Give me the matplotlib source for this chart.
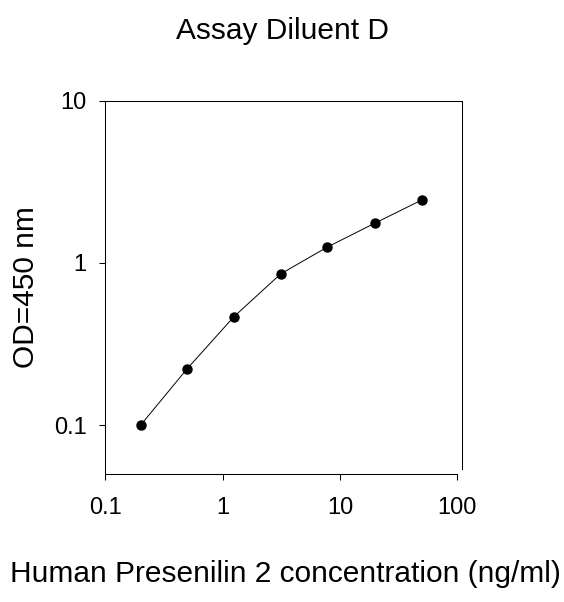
import matplotlib
matplotlib.use('Agg')
import matplotlib.pyplot as plt
from matplotlib.ticker import FixedLocator, NullLocator

plt.rcParams['font.family'] = ['Liberation Sans', 'DejaVu Sans']

# Standard curve data
conc = [0.2, 0.5, 1.25, 3.13, 7.8, 20, 50]
od = [0.100, 0.223, 0.466, 0.855, 1.25, 1.76, 2.44]

x_ticks = [0.1, 1, 10, 100]
x_tick_labels = ['0.1', '1', '10', '100']
y_ticks = [0.1, 1, 10]
y_tick_labels = ['0.1', '1', '10']

title = 'Assay Diluent D'
xlabel = 'Human Presenilin 2 concentration (ng/ml)'
ylabel = 'OD=450 nm'

fig = plt.figure(figsize=(5.64, 6.02), dpi=100)
ax = fig.add_axes([0.1867, 0.2126, 0.6325, 0.6204])

ax.plot(conc, od, color='black', linewidth=0.7, marker='o',
        markersize=6.5, markerfacecolor='black', markeredgecolor='black')

ax.set_xscale('log')
ax.set_yscale('log')
ax.set_xlim(0.1, 110)
ax.set_ylim(0.05, 10)

ax.xaxis.set_major_locator(FixedLocator(x_ticks))
ax.xaxis.set_minor_locator(NullLocator())
ax.yaxis.set_major_locator(FixedLocator(y_ticks))
ax.yaxis.set_minor_locator(NullLocator())
ax.set_xticklabels(x_tick_labels)
ax.set_yticklabels(y_tick_labels)

ax.tick_params(axis='both', direction='out', length=4.3, width=0.75,
               labelsize=17, top=False, right=False)
ax.tick_params(axis='x', pad=12.5)
ax.tick_params(axis='y', pad=9)

for s in ax.spines.values():
    s.set_linewidth(0.75)
ax.spines['bottom'].set_bounds(0.1, 100)
ax.spines['right'].set_bounds(0.054, 10)

fig.text(0.5, 1 - 39 / 602, title, ha='center', va='baseline', fontsize=21.5)
fig.text(285 / 564, 1 - 582 / 602, xlabel, ha='center', va='baseline', fontsize=21.5)
fig.text(26 / 564, 1 - 287 / 602, ylabel, ha='center', va='center',
         rotation=90, fontsize=21.5)

plt.savefig('out.png', dpi=100)
